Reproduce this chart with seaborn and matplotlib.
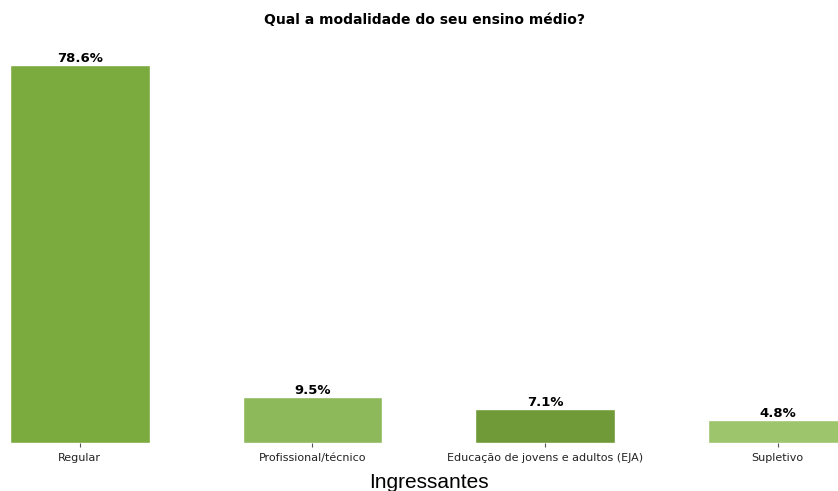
import matplotlib
matplotlib.use('Agg')
import matplotlib.pyplot as plt
import seaborn as sns
import pandas as pd

# data
categories = ['Regular', 'Profissional/técnico', 'Educação de jovens e adultos (EJA)', 'Supletivo']
percentages = [78.6, 9.5, 7.1, 4.8]
bar_colors = ['#7bab3f', '#8db95a', '#6f9a37', '#9dc56b']

df = pd.DataFrame({'modalidade': categories, 'pct': percentages})

sns.set_style('white')
plt.rcParams['text.color'] = 'black'
plt.rcParams['xtick.color'] = 'black'
fig = plt.figure(figsize=(8.38, 4.91), dpi=100)
ax = fig.add_axes([10 / 838, 48 / 491, 828 / 838, 409 / 491])

sns.barplot(data=df, x='modalidade', y='pct', hue='modalidade', palette=bar_colors,
            width=0.6, legend=False, ax=ax, saturation=1)

for p, v in zip(ax.patches, percentages):
    ax.annotate(f'{v}%', (p.get_x() + p.get_width() / 2, p.get_height()),
                ha='center', va='bottom', fontsize=9.5, fontweight='bold',
                color='black', xytext=(0, 0), textcoords='offset points')

ax.set_xlim(-0.3, 3.26)
ax.set_ylim(0, 85)
ax.set_yticks([])
ax.set_ylabel('')
ax.set_xlabel('')
ax.tick_params(axis='x', labelsize=8, length=3, color='#555555', labelcolor='#222222',
               pad=4, bottom=True)
for s in ax.spines.values():
    s.set_visible(False)

ax.set_title('Qual a modalidade do seu ensino médio?', fontsize=10, fontweight='bold',
             color='black', pad=7)
fig.text(429 / 838, -1 / 491, 'Ingressantes', ha='center', va='bottom',
         fontsize=15, family='Liberation Sans', color='black')

fig.savefig('out.png', dpi=100)
